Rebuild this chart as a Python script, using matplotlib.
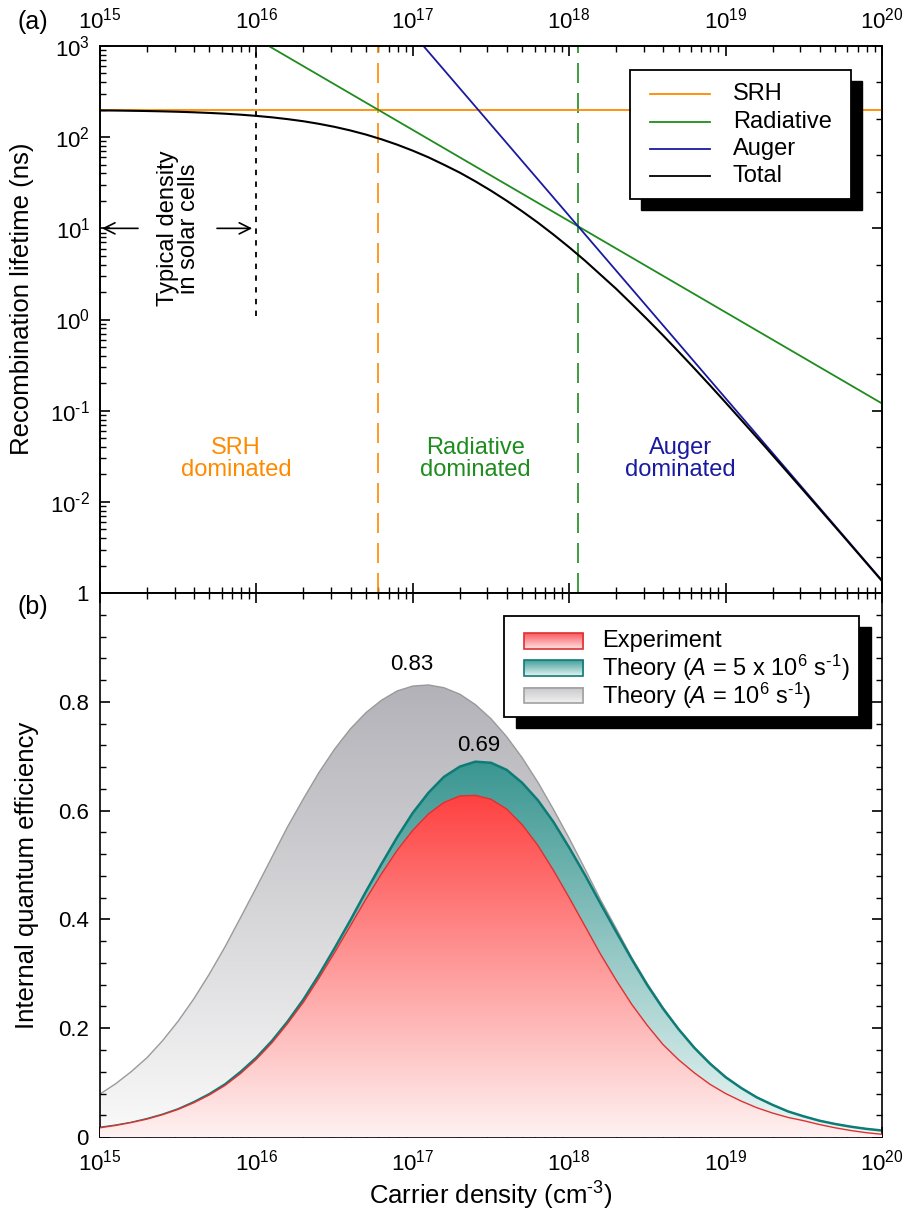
import numpy as np
import matplotlib
matplotlib.use('Agg')
import matplotlib.pyplot as plt
from matplotlib.patches import Rectangle, Polygon
from matplotlib.lines import Line2D
from matplotlib.ticker import FixedLocator, FixedFormatter, LogLocator, MultipleLocator, NullFormatter

plt.rcParams['font.family'] = ['Liberation Sans', 'DejaVu Sans']
plt.rcParams['mathtext.fontset'] = 'custom'
plt.rcParams['mathtext.rm'] = 'Liberation Sans'
plt.rcParams['mathtext.it'] = 'Liberation Sans:italic'
plt.rcParams['mathtext.bf'] = 'Liberation Sans:bold'
plt.rcParams['mathtext.sf'] = 'Liberation Sans'

HY = '\u2010'  # short hyphen used in exponents

# ---------------- data: panel (a) ----------------
srh_n = [1e15, 1e20]
srh_tau = [200, 200]
rad_n = [1.2e16, 1e20]
rad_tau = [1000, 0.12]
aug_n = [1.17e17, 1e20]
aug_tau = [1000, 1.37e-3]
tot_n = [1.00e15, 1.26e15, 1.58e15, 2.00e15, 2.51e15, 3.16e15, 3.98e15, 5.01e15, 6.31e15, 7.94e15,
         1.00e16, 1.26e16, 1.58e16, 2.00e16, 2.51e16, 3.16e16, 3.98e16, 5.01e16, 6.31e16, 7.94e16,
         1.00e17, 1.26e17, 1.58e17, 2.00e17, 2.51e17, 3.16e17, 3.98e17, 5.01e17, 6.31e17, 7.94e17,
         1.00e18, 1.26e18, 1.58e18, 2.00e18, 2.51e18, 3.16e18, 3.98e18, 5.01e18, 6.31e18, 7.94e18,
         1.00e19, 1.78e19, 3.16e19, 5.62e19, 1.00e20]
tot_tau = [196.7, 195.9, 194.8, 193.6, 192.0, 190.0, 187.5, 184.5, 180.9, 176.5,
           171.2, 165.0, 157.8, 149.5, 140.1, 129.8, 118.6, 106.9, 94.8, 82.8,
           71.1, 60.1, 49.9, 40.8, 32.8, 25.9, 20.1, 15.36, 11.55, 8.53,
           6.20, 4.43, 3.12, 2.165, 1.482, 1.002, 0.670, 0.443, 0.291, 0.190,
           0.1229, 0.0407, 0.01322, 0.00425, 0.001354]
typical_n = [1e16, 1e16]
typical_tau = [1.1, 1000]
srh_rad_n = [6e16, 6e16]
rad_aug_n = [1.14e18, 1.14e18]
boundary_tau = [1e-3, 1e3]

# ---------------- data: panel (b) ----------------
iqe_n = [1.00e15, 1.26e15, 1.58e15, 2.00e15, 2.51e15, 3.16e15, 3.98e15, 5.01e15, 6.31e15, 7.94e15,
         1.00e16, 1.26e16, 1.58e16, 2.00e16, 2.51e16, 3.16e16, 3.98e16, 5.01e16, 6.31e16, 7.94e16,
         1.00e17, 1.26e17, 1.58e17, 2.00e17, 2.51e17, 3.16e17, 3.98e17, 5.01e17, 6.31e17, 7.94e17,
         1.00e18, 1.26e18, 1.58e18, 2.00e18, 2.51e18, 3.16e18, 3.98e18, 5.01e18, 6.31e18, 7.94e18,
         1.00e19, 1.26e19, 1.58e19, 2.00e19, 2.51e19, 3.16e19, 3.98e19, 5.01e19, 6.31e19, 7.94e19,
         1.00e20]
iqe_A1 = [0.079, 0.098, 0.120, 0.146, 0.177, 0.213, 0.254, 0.300, 0.350, 0.404,
          0.459, 0.515, 0.570, 0.622, 0.670, 0.713, 0.750, 0.780, 0.803, 0.820,
          0.829, 0.831, 0.826, 0.814, 0.795, 0.769, 0.736, 0.697, 0.652, 0.602,
          0.549, 0.493, 0.437, 0.383, 0.330, 0.282, 0.238, 0.199, 0.165, 0.136,
          0.111, 0.090, 0.073, 0.059, 0.047, 0.038, 0.030, 0.024, 0.019, 0.015,
          0.012]
iqe_A5 = [0.017, 0.021, 0.026, 0.033, 0.041, 0.051, 0.064, 0.079, 0.097, 0.120,
          0.146, 0.177, 0.212, 0.253, 0.298, 0.347, 0.398, 0.451, 0.502, 0.551,
          0.596, 0.633, 0.662, 0.681, 0.690, 0.688, 0.675, 0.651, 0.619, 0.579,
          0.532, 0.482, 0.430, 0.377, 0.327, 0.279, 0.236, 0.198, 0.164, 0.135,
          0.110, 0.090, 0.073, 0.059, 0.047, 0.038, 0.030, 0.024, 0.019, 0.015,
          0.012]
iqe_exp = [0.0170, 0.0213, 0.0265, 0.0330, 0.0410, 0.0508, 0.0630, 0.0775, 0.0950, 0.1170,
           0.1430, 0.1735, 0.2085, 0.2480, 0.2920, 0.3390, 0.3880, 0.4370, 0.4840, 0.5270,
           0.5640, 0.5940, 0.6150, 0.6270, 0.6280, 0.6210, 0.6030, 0.5740, 0.5360, 0.4900,
           0.4400, 0.3880, 0.3370, 0.2880, 0.2440, 0.2050, 0.1700, 0.1420, 0.1180, 0.0970,
           0.0800, 0.0660, 0.0540, 0.0440, 0.0360, 0.0300, 0.0230, 0.0170, 0.0120, 0.0080,
           0.0050]

x_ticks = [1e15, 1e16, 1e17, 1e18, 1e19, 1e20]
x_ticklabels = [r'$10^{15}$', r'$10^{16}$', r'$10^{17}$', r'$10^{18}$', r'$10^{19}$', r'$10^{20}$']
ya_ticks = [1e-3, 1e-2, 1e-1, 1e0, 1e1, 1e2, 1e3]
ya_ticklabels = ['', r'$10^{%s2}$' % HY, r'$10^{%s1}$' % HY, r'$10^{0}$', r'$10^{1}$', r'$10^{2}$', r'$10^{3}$']
yb_ticks = [0, 0.2, 0.4, 0.6, 0.8, 1.0]
yb_ticklabels = ['0', '0.2', '0.4', '0.6', '0.8', '1']

ORANGE = '#FF8A00'
GREEN = '#1E8C1E'
BLUE = '#1A1AA0'

TICK_FS = 16
LEG_FS = 17

fig = plt.figure(figsize=(9.05, 12.14), dpi=100)
ax1 = fig.add_axes([0.1105, 0.5115, 0.8641, 0.4506])
ax2 = fig.add_axes([0.1105, 0.0634, 0.8641, 0.4481])

for ax in (ax1, ax2):
    ax.set_xscale('log')
    ax.set_xlim(1e15, 1e20)
    for s in ax.spines.values():
        s.set_linewidth(1.2)
    ax.xaxis.set_major_locator(FixedLocator(x_ticks))
    ax.xaxis.set_major_formatter(FixedFormatter(x_ticklabels))
    ax.xaxis.set_minor_locator(LogLocator(base=10, subs=range(2, 10), numticks=20))
    ax.xaxis.set_minor_formatter(NullFormatter())
    ax.tick_params(which='major', length=7.5, width=1.2, direction='in', labelsize=TICK_FS)
    ax.tick_params(which='minor', length=4, width=1.0, direction='in')

# ---------------- panel (a) ----------------
ax1.set_yscale('log')
ax1.set_ylim(1e-3, 1e3)
ax1.yaxis.set_major_locator(FixedLocator(ya_ticks))
ax1.yaxis.set_major_formatter(FixedFormatter(ya_ticklabels))
ax1.yaxis.set_minor_locator(LogLocator(base=10, subs=range(2, 10), numticks=20))
ax1.yaxis.set_minor_formatter(NullFormatter())
ax1.tick_params(axis='x', which='both', top=True, bottom=True, labeltop=True, labelbottom=False, pad=9)
ax1.tick_params(axis='y', which='both', left=True, right=False, pad=7)

axr = ax1.twinx()
axr.set_ylim(0, 15)
axr.yaxis.set_major_locator(FixedLocator([0, 5, 10, 15]))
axr.yaxis.set_minor_locator(MultipleLocator(1))
axr.tick_params(axis='y', which='major', length=7.5, width=1.2, direction='in', labelright=False)
axr.tick_params(axis='y', which='minor', length=4, width=1.0, direction='in', labelright=False)
for s in axr.spines.values():
    s.set_linewidth(1.2)

ax1.plot(srh_n, srh_tau, color=ORANGE, lw=1.3, zorder=3)
ax1.plot(rad_n, rad_tau, color=GREEN, lw=1.3, zorder=3)
ax1.plot(aug_n, aug_tau, color=BLUE, lw=1.3, zorder=3)
ax1.plot(tot_n, tot_tau, color='black', lw=1.5, zorder=4)
ax1.plot(typical_n, typical_tau, color='black', lw=1.3, linestyle=(0, (3, 3.5)), zorder=2)
ax1.plot(srh_rad_n, boundary_tau, color=ORANGE, lw=1.2, linestyle=(0, (12, 6)), zorder=2)
ax1.plot(rad_aug_n, boundary_tau, color=GREEN, lw=1.2, linestyle=(0, (12, 6)), zorder=2)

ax1.annotate('', xy=(1.03e15, 10), xytext=(1.75e15, 10),
             arrowprops=dict(arrowstyle='->', lw=1.2, color='black', shrinkA=0, shrinkB=0,
                             mutation_scale=20))
ax1.annotate('', xy=(9.4e15, 10), xytext=(5.6e15, 10),
             arrowprops=dict(arrowstyle='->', lw=1.2, color='black', shrinkA=0, shrinkB=0,
                             mutation_scale=20))
ax1.text(10**15.5, 10, 'Typical density\nin solar cells', rotation=90, ha='center', va='center',
         multialignment='center', fontsize=17, linespacing=0.95)

ax1.text(10**15.87, 10**-1.53, 'SRH\ndominated', color=ORANGE, ha='center', va='center',
         fontsize=17, linespacing=1.0)
ax1.text(10**17.40, 10**-1.53, 'Radiative\ndominated', color=GREEN, ha='center', va='center',
         fontsize=17, linespacing=1.0)
ax1.text(10**18.71, 10**-1.53, 'Auger\ndominated', color=BLUE, ha='center', va='center',
         fontsize=17, linespacing=1.0)

# legend (a)
lx0, lx1, ly0, ly1 = 0.678, 0.960, 0.720, 0.956
ax1.add_patch(Rectangle((lx0 + 0.014, ly0 - 0.020), lx1 - lx0, ly1 - ly0, transform=ax1.transAxes,
                        facecolor='black', edgecolor='black', zorder=10, clip_on=False))
ax1.add_patch(Rectangle((lx0, ly0), lx1 - lx0, ly1 - ly0, transform=ax1.transAxes,
                        facecolor='white', edgecolor='black', lw=1.3, zorder=11, clip_on=False))
leg_a = [('SRH', ORANGE, 0.912), ('Radiative', GREEN, 0.862), ('Auger', BLUE, 0.812), ('Total', 'black', 0.762)]
for lab, col, yy in leg_a:
    ax1.add_line(Line2D([0.703, 0.780], [yy, yy], transform=ax1.transAxes, color=col, lw=1.3, zorder=12))
    ax1.text(0.809, yy, lab, transform=ax1.transAxes, va='center', ha='left', fontsize=LEG_FS, zorder=12)

ax1.set_xlim(1e15, 1e20)
ax1.set_ylim(1e-3, 1e3)

# ---------------- panel (b) ----------------
ax2.set_ylim(0, 1)
ax2.yaxis.set_major_locator(FixedLocator(yb_ticks))
ax2.yaxis.set_major_formatter(FixedFormatter(yb_ticklabels))
ax2.yaxis.set_minor_locator(MultipleLocator(0.04))
ax2.tick_params(axis='x', which='both', top=True, bottom=True, labeltop=False, labelbottom=True, pad=9)
ax2.tick_params(axis='y', which='both', left=True, right=True, pad=8)
ax2.set_autoscale_on(False)


def gradient_fill(ax, x, y, top_rgb, bot_rgb, peak, z, edge, lw):
    n = 512
    v = np.linspace(0, 1, n)
    t = np.clip(v / peak, 0, 1)[:, None]
    top = np.array(top_rgb) / 255.0
    bot = np.array(bot_rgb) / 255.0
    img = (bot + (top - bot) * t)[:, None, :]
    im = ax.imshow(img, extent=[0, 1, 0, 1], transform=ax.transAxes, origin='lower',
                   aspect='auto', interpolation='bilinear', zorder=z)
    verts = list(zip(x, y)) + [(x[-1], 0), (x[0], 0)]
    poly = Polygon(verts, closed=True, transform=ax.transData)
    im.set_clip_path(poly)
    ax.plot(x, y, color=edge, lw=lw, zorder=z + 0.1, solid_joinstyle='round')


gradient_fill(ax2, iqe_n, iqe_A1, (178, 178, 184), (250, 250, 250), max(iqe_A1), 1, '#9A9A9A', 1.0)
gradient_fill(ax2, iqe_n, iqe_A5, (58, 150, 145), (236, 248, 247), max(iqe_A5), 2, '#0E7C76', 1.8)
gradient_fill(ax2, iqe_n, iqe_exp, (255, 65, 65), (254, 242, 242), max(iqe_exp), 3, '#E03030', 1.0)

ax2.text(10**16.995, 0.869, '0.83', ha='center', va='center', fontsize=16)
ax2.text(10**17.42, 0.72, '0.69', ha='center', va='center', fontsize=16)

# legend (b)
bx0, bx1, by0, by1 = 0.517, 0.971, 0.772, 0.958
ax2.add_patch(Rectangle((bx0 + 0.015, by0 - 0.020), bx1 - bx0, by1 - by0, transform=ax2.transAxes,
                        facecolor='black', edgecolor='black', zorder=10, clip_on=False))
ax2.add_patch(Rectangle((bx0, by0), bx1 - bx0, by1 - by0, transform=ax2.transAxes,
                        facecolor='white', edgecolor='black', lw=1.3, zorder=11, clip_on=False))
leg_b = [('Experiment', (250, 90, 95), (253, 225, 228), '#E03030', 0.912),
         (r'Theory ($\mathit{A}$ = 5 x 10$^{6}$ s$^{%s1}$)' % HY, (70, 160, 155), (225, 243, 242), '#0E7C76', 0.862),
         (r'Theory ($\mathit{A}$ = 10$^{6}$ s$^{%s1}$)' % HY, (200, 200, 204), (240, 240, 240), '#A0A0A0', 0.811)]
px0, px1, ph = 0.542, 0.618, 0.028
for lab, ctop, cbot, edge, yy in leg_b:
    g = np.linspace(0, 1, 32)[:, None]
    img = (np.array(cbot) / 255.0 + (np.array(ctop) - np.array(cbot)) / 255.0 * g)[:, None, :]
    ax2.imshow(img, extent=[px0, px1, yy - ph / 2, yy + ph / 2], transform=ax2.transAxes,
               origin='lower', aspect='auto', interpolation='bilinear', zorder=12)
    ax2.add_patch(Rectangle((px0, yy - ph / 2), px1 - px0, ph, transform=ax2.transAxes,
                            facecolor='none', edgecolor=edge, lw=1.2, zorder=13))
    ax2.text(0.642, yy, lab, transform=ax2.transAxes, va='center', ha='left', fontsize=LEG_FS, zorder=13)

ax2.set_xlim(1e15, 1e20)
ax2.set_ylim(0, 1)

# ---------------- labels ----------------
fig.text(0.0243, 0.7537, 'Recombination lifetime (ns)', rotation=90, ha='center', va='center', fontsize=18.5)
fig.text(0.0300, 0.279, 'Internal quantum efficiency', rotation=90, ha='center', va='center', fontsize=18.5)
fig.text(0.5425, 0.0145, r'Carrier density (cm$^{%s3}$)' % HY, ha='center', va='center', fontsize=18.5)
fig.text(0.036, 0.982, '(a)', ha='center', va='center', fontsize=18)
fig.text(0.036, 0.500, '(b)', ha='center', va='center', fontsize=18)

fig.savefig('out.png', dpi=100)
